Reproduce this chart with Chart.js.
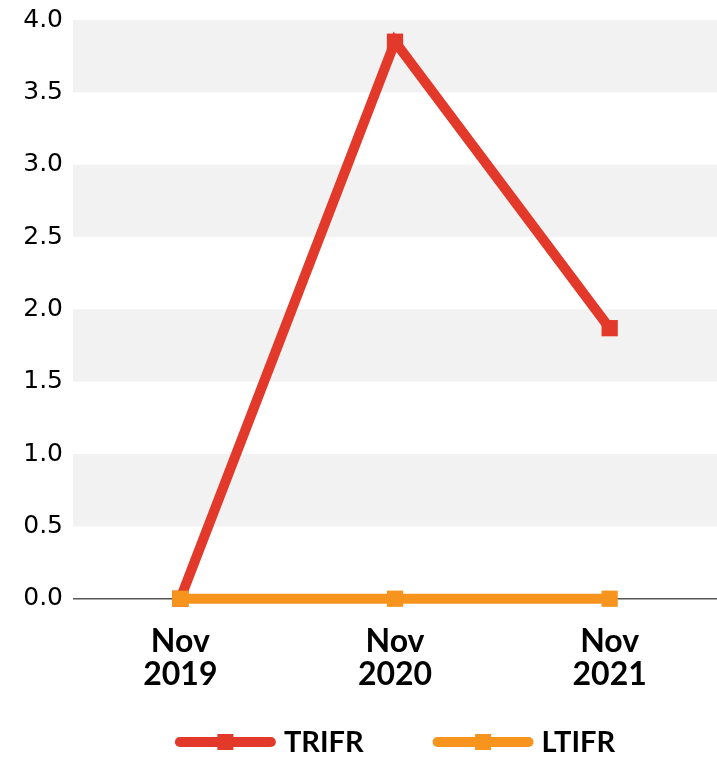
<!DOCTYPE html>
<html>
<head>
<meta charset="utf-8">
<script src="https://cdn.jsdelivr.net/npm/chart.js@4/dist/chart.umd.min.js"></script>
<style>
  html, body { margin: 0; padding: 0; background: #fff; }
  #wrap { width: 717px; height: 759px; position: relative; }
</style>
</head>
<body>
<div id="wrap"><canvas id="c"></canvas></div>
<script>
const categories = [['Nov', '2019'], ['Nov', '2020'], ['Nov', '2021']];
const seriesNames = ['TRIFR', 'LTIFR'];
const trifrValues = [0, 3.85, 1.87];
const ltifrValues = [0, 0, 0];
const yTicks = [0, 0.5, 1.0, 1.5, 2.0, 2.5, 3.0, 3.5, 4.0];

const RED = '#e2392a';
const ORANGE = '#f7941e';
const LEGEND_FONT = 'bold 29px Lato, "Open Sans", sans-serif';

const bandsPlugin = {
  id: 'bands',
  beforeDatasetsDraw(chart) {
    const { ctx, chartArea, scales } = chart;
    const y = scales.y;
    ctx.save();
    ctx.fillStyle = '#f2f2f2';
    for (let i = 0; i < yTicks.length - 1; i++) {
      if (i % 2 === 1) {
        const top = y.getPixelForValue(yTicks[i + 1]);
        const bot = y.getPixelForValue(yTicks[i]);
        ctx.fillRect(chartArea.left, top, chartArea.right - chartArea.left, bot - top);
      }
    }
    const z = y.getPixelForValue(0);
    ctx.strokeStyle = '#555';
    ctx.lineWidth = 1.5;
    ctx.beginPath();
    ctx.moveTo(chartArea.left, z);
    ctx.lineTo(chartArea.right, z);
    ctx.stroke();
    ctx.restore();
  }
};

const legendPlugin = {
  id: 'customLegend',
  afterDraw(chart) {
    const { ctx, chartArea } = chart;
    const ds = chart.data.datasets;
    const lineW = 101, gapText = 8, gapItems = 69;
    ctx.save();
    ctx.font = LEGEND_FONT;
    const widths = ds.map(d => ctx.measureText(d.label).width);
    let total = 0;
    widths.forEach((w, i) => { total += lineW + gapText + w + (i < widths.length - 1 ? gapItems : 0); });
    let x = (chartArea.left + chartArea.right) / 2 - total / 2;
    const yc = 742;
    ds.forEach((d, i) => {
      ctx.strokeStyle = d.borderColor;
      ctx.lineWidth = 10;
      ctx.lineCap = 'round';
      ctx.beginPath();
      ctx.moveTo(x + 5, yc);
      ctx.lineTo(x + lineW - 5, yc);
      ctx.stroke();
      ctx.fillStyle = d.borderColor;
      ctx.fillRect(x + lineW / 2 - 8, yc - 8, 16, 16);
      ctx.fillStyle = '#000';
      ctx.textAlign = 'left';
      ctx.textBaseline = 'middle';
      ctx.fillText(d.label, x + lineW + gapText, yc + 1);
      x += lineW + gapText + widths[i] + gapItems;
    });
    ctx.restore();
  }
};

new Chart(document.getElementById('c'), {
  type: 'line',
  data: {
    labels: categories,
    datasets: [
      {
        label: seriesNames[0],
        data: trifrValues,
        borderColor: RED,
        backgroundColor: RED,
        borderWidth: 10,
        pointStyle: 'rect',
        pointRadius: 11.5,
        pointBorderWidth: 0,
        tension: 0,
        clip: false,
        order: 2
      },
      {
        label: seriesNames[1],
        data: ltifrValues,
        borderColor: ORANGE,
        backgroundColor: ORANGE,
        borderWidth: 10,
        pointStyle: 'rect',
        pointRadius: 11.5,
        pointBorderWidth: 0,
        tension: 0,
        clip: false,
        order: 1
      }
    ]
  },
  options: {
    responsive: true,
    maintainAspectRatio: false,
    animation: false,
    layout: { autoPadding: false, padding: { top: 20, right: 0, left: 0, bottom: 41 } },
    plugins: {
      tooltip: { enabled: false },
      legend: { display: false }
    },
    scales: {
      x: {
        offset: true,
        grid: { display: false, drawTicks: false },
        border: { display: false },
        ticks: {
          color: '#000',
          padding: 27,
          maxRotation: 0,
          font: { family: 'Lato, "Open Sans", sans-serif', size: 32, weight: 'bold', lineHeight: 1.02 }
        }
      },
      y: {
        min: 0,
        max: 4,
        afterBuildTicks(axis) { axis.ticks = yTicks.map(v => ({ value: v })); },
        afterFit(axis) { axis.width = 73; axis.paddingTop = 0; axis.paddingBottom = 0; },
        grid: { display: false, drawTicks: false },
        border: { display: false },
        ticks: {
          color: '#000',
          padding: 10,
          font: { family: '"DejaVu Sans", sans-serif', size: 25 },
          callback: v => Number(v).toFixed(1)
        }
      }
    }
  },
  plugins: [bandsPlugin, legendPlugin]
});
</script>
</body>
</html>
